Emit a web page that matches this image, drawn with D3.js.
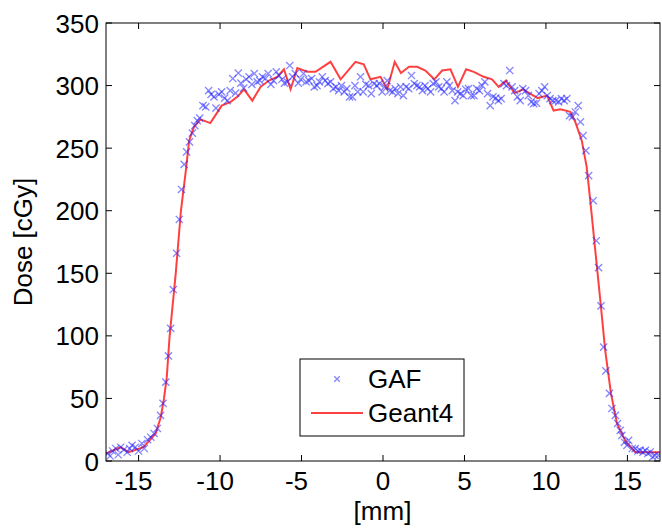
<!DOCTYPE html>
<html>
<head>
<meta charset="utf-8">
<script src="https://cdn.jsdelivr.net/npm/d3@7"></script>
<style>
  body { margin: 0; background: #fff; }
  text { font-family: "Liberation Sans", Arial, sans-serif; fill: #000; }
</style>
</head>
<body>
<svg width="662" height="528"></svg>
<script>
// GAF measurement (crosses)
const gafX = [
  -16.9, -16.75, -16.6, -16.4, -16.25, -16.1, -15.9, -15.7, -15.55, -15.4,
  -15.2, -15.0, -14.8, -14.65, -14.45, -14.25, -14.05, -13.85, -13.65, -13.5,
  -13.33, -13.17, -13.03, -12.87, -12.67, -12.5, -12.37, -12.2, -12.05, -11.88,
  -11.7, -11.55, -11.4, -11.25, -11.05, -10.88, -10.7, -10.55, -10.37, -10.25,
  -10.07, -9.9, -9.72, -9.55, -9.38, -9.22, -9.05, -8.88, -8.72, -8.55,
  -8.4, -8.22, -8.05, -7.9, -7.72, -7.56, -7.4, -7.22, -7.05, -6.88,
  -6.72, -6.55, -6.38, -6.2, -6.05, -5.87, -5.72, -5.55, -5.38, -5.2,
  -5.05, -4.88, -4.72, -4.55, -4.38, -4.22, -4.05, -3.9, -3.73, -3.55,
  -3.38, -3.22, -3.05, -2.88, -2.72, -2.55, -2.38, -2.22, -2.05, -1.88,
  -1.72, -1.55, -1.38, -1.22, -1.05, -0.88, -0.72, -0.55, -0.38, -0.22,
  -0.05, 0.1, 0.26, 0.42, 0.58, 0.75, 0.92, 1.08, 1.25, 1.42,
  1.58, 1.75, 1.92, 2.08, 2.25, 2.42, 2.58, 2.75, 2.92, 3.08,
  3.25, 3.42, 3.58, 3.75, 3.92, 4.08, 4.25, 4.42, 4.58, 4.75,
  4.92, 5.08, 5.25, 5.42, 5.58, 5.75, 5.92, 6.08, 6.25, 6.42,
  6.58, 6.75, 6.92, 7.08, 7.25, 7.42, 7.58, 7.78, 7.92, 8.08,
  8.25, 8.42, 8.58, 8.75, 8.92, 9.1, 9.25, 9.42, 9.58, 9.75,
  9.92, 10.08, 10.25, 10.42, 10.6, 10.78, 10.95, 11.12, 11.28, 11.45,
  11.62, 11.8, 11.98, 12.12, 12.28, 12.45, 12.62, 12.9, 13.09, 13.23,
  13.38, 13.54, 13.68, 13.9, 14.05, 14.26, 14.4, 14.56, 14.66, 14.82,
  14.97, 15.07, 15.3, 15.48, 15.64, 15.79, 15.95, 16.1, 16.25, 16.4,
  16.55, 16.7, 16.9
];
const gafDose = [
  6, 4, 8, 10, 5, 11, 9, 7, 10, 12.5,
  11, 8, 14, 10, 17, 19, 22, 26, 36.5, 46,
  63, 84, 106, 137, 166, 193, 217, 237, 247, 255,
  262, 268, 272, 274, 284, 283, 296, 293, 291, 282,
  293, 295, 290, 288, 296, 305.6, 294, 310, 302, 298,
  305, 307, 301, 309.6, 303, 304, 307, 305.6, 309.6, 301,
  304, 311, 308, 305, 302, 303, 316, 307, 309.6, 302,
  305, 309.6, 303, 304, 305.6, 299, 300, 303, 307, 304,
  301.6, 303, 297.6, 299, 296, 300, 295, 297.6, 291, 291,
  300, 295, 307, 295, 301, 300, 293.6, 301.6, 300, 301.6,
  295, 299, 304, 296, 295, 297.6, 293.6, 299, 292, 299,
  297.6, 308, 301.6, 300, 299, 296, 300, 297.6, 295, 301.6,
  303, 299, 297.6, 295, 303, 300, 296, 288, 295, 293.6,
  292, 297, 297.6, 292, 292, 297.6, 296, 300, 303, 293.6,
  284, 291, 290, 288, 289.6, 301.6, 300, 312, 299, 296,
  291, 288, 297.6, 296, 292, 287, 285.6, 286, 293.6, 296,
  299, 292, 289.6, 288, 288, 287, 289.6, 288, 289.6, 276,
  275, 278.9, 284, 271, 260, 248, 228, 208, 176, 154.5,
  124, 91, 72, 54, 42, 36.5, 30, 24.5, 20.5, 15,
  12.5, 16.5, 10, 9.9, 8, 8.5, 7, 8.5, 6, 7.2,
  3.2, 4.5, 4.5
];

// Geant4 simulation (line)
const g4X = [
  -17, -16.1, -15.6, -14.7, -13.95, -13.64, -13.44, -13.27, -13.1, -12.72,
  -12.4, -12.1, -11.9, -11.6, -11.2, -10.6, -10.2, -9.9, -9.35, -8.94,
  -8.53, -8.02, -7.51, -7.0, -6.49, -6.08, -5.67, -5.26, -4.65, -4.14,
  -3.22, -2.6, -1.69, -1.18, -0.77, -0.15, 0.26, 0.72, 1.1, 1.6,
  2.1, 2.6, 3.15, 3.63, 4.14, 4.6, 5.1, 5.57, 6.18, 6.69,
  7.1, 7.55, 8.07, 8.6, 9.1, 9.5, 10.07, 10.47, 10.88, 11.5,
  11.8, 12.2, 12.5, 12.72, 13.03, 13.34, 13.64, 13.99, 14.36, 14.87,
  15.48, 16.6, 17
];
const g4Dose = [
  6, 11, 7, 11, 22, 35, 50, 67, 99, 150,
  200, 232, 256, 267, 273, 270, 278, 284, 287, 291,
  297, 288, 299, 304, 307, 313, 297, 314, 311, 311,
  319, 305, 319, 317, 305, 307, 297, 319, 310, 315,
  315, 312, 305, 312, 313, 299, 313, 311, 307, 305,
  299, 304, 294, 297, 293, 290, 292, 280, 281, 279,
  271, 256, 235, 208, 168, 128, 88, 54, 30, 16,
  7, 7, 7
];

const xTicks = [-15, -10, -5, 0, 5, 10, 15];
const yTicks = [0, 50, 100, 150, 200, 250, 300, 350];

const svg = d3.select('svg');
const plotLeft = 106, plotRight = 660, plotTop = 23, plotBottom = 461;
const fontSize = 26;

const x = d3.scaleLinear().domain([-17, 17]).range([plotLeft, plotRight]);
const y = d3.scaleLinear().domain([0, 350]).range([plotBottom, plotTop]);

svg.append('defs').append('clipPath')
    .attr('id', 'plot')
    .append('rect')
    .attr('x', plotLeft)
    .attr('y', plotTop)
    .attr('width', plotRight - plotLeft)
    .attr('height', plotBottom - plotTop);

const plot = svg.append('g').attr('clip-path', 'url(#plot)');

// red line
const line = d3.line()
    .x((d, i) => x(g4X[i]))
    .y(d => y(d));

plot.append('path')
    .datum(g4Dose)
    .attr('fill', 'none')
    .attr('stroke', '#ff0000')
    .attr('stroke-opacity', 0.75)
    .attr('stroke-width', 2)
    .attr('d', line);

// crosses
const cross = s => `M${-s},${-s}L${s},${s}M${-s},${s}L${s},${-s}`;

plot.append('g')
    .selectAll('path')
    .data(gafDose)
    .enter()
    .append('path')
    .attr('transform', (d, i) => `translate(${x(gafX[i])},${y(d)})`)
    .attr('d', cross(3.6))
    .attr('fill', 'none')
    .attr('stroke', '#2020ff')
    .attr('stroke-opacity', 0.55)
    .attr('stroke-width', 1.3);

// axes: box with inward ticks on all sides
const tickLen = 6;
const axes = svg.append('g').attr('stroke', '#000').attr('stroke-width', 1);

axes.append('rect')
    .attr('x', plotLeft)
    .attr('y', plotTop)
    .attr('width', plotRight - plotLeft)
    .attr('height', plotBottom - plotTop)
    .attr('fill', 'none');

xTicks.forEach((t) => {
    axes.append('line').attr('x1', x(t)).attr('x2', x(t)).attr('y1', plotBottom).attr('y2', plotBottom - tickLen);
    axes.append('line').attr('x1', x(t)).attr('x2', x(t)).attr('y1', plotTop).attr('y2', plotTop + tickLen);
});
yTicks.forEach((t) => {
    axes.append('line').attr('x1', plotLeft).attr('x2', plotLeft + tickLen).attr('y1', y(t)).attr('y2', y(t));
    axes.append('line').attr('x1', plotRight).attr('x2', plotRight - tickLen).attr('y1', y(t)).attr('y2', y(t));
});

svg.append('g')
    .selectAll('text')
    .data(xTicks)
    .enter()
    .append('text')
    .attr('x', d => x(d) + (d < 0 ? -5 : 0))
    .attr('y', 490)
    .attr('text-anchor', 'middle')
    .attr('font-size', fontSize)
    .text(d => d);

svg.append('g')
    .selectAll('text')
    .data(yTicks)
    .enter()
    .append('text')
    .attr('x', 99)
    .attr('y', d => y(d) + 9.5)
    .attr('text-anchor', 'end')
    .attr('font-size', fontSize)
    .text(d => d);

// axis labels
svg.append('text')
    .attr('x', (plotLeft + plotRight) / 2 - 0.5)
    .attr('y', 520)
    .attr('text-anchor', 'middle')
    .attr('font-size', fontSize)
    .text('[mm]');

svg.append('text')
    .attr('transform', `translate(32,${(plotTop + plotBottom) / 2}) rotate(-90)`)
    .attr('text-anchor', 'middle')
    .attr('font-size', fontSize)
    .text('Dose [cGy]');

// legend
const legend = svg.append('g');
legend.append('rect')
    .attr('x', 300)
    .attr('y', 359)
    .attr('width', 164)
    .attr('height', 77)
    .attr('fill', '#fff')
    .attr('stroke', '#000')
    .attr('stroke-width', 1);

legend.append('path')
    .attr('transform', 'translate(337,379)')
    .attr('d', cross(2.8))
    .attr('fill', 'none')
    .attr('stroke', '#2020ff')
    .attr('stroke-opacity', 0.55)
    .attr('stroke-width', 1.3);

legend.append('line')
    .attr('x1', 311)
    .attr('x2', 363)
    .attr('y1', 413)
    .attr('y2', 413)
    .attr('stroke', '#ff0000')
    .attr('stroke-opacity', 0.75)
    .attr('stroke-width', 2);

legend.append('text')
    .attr('x', 368)
    .attr('y', 388)
    .attr('font-size', fontSize)
    .text('GAF');

legend.append('text')
    .attr('x', 368)
    .attr('y', 422)
    .attr('font-size', fontSize)
    .text('Geant4');
</script>
</body>
</html>
